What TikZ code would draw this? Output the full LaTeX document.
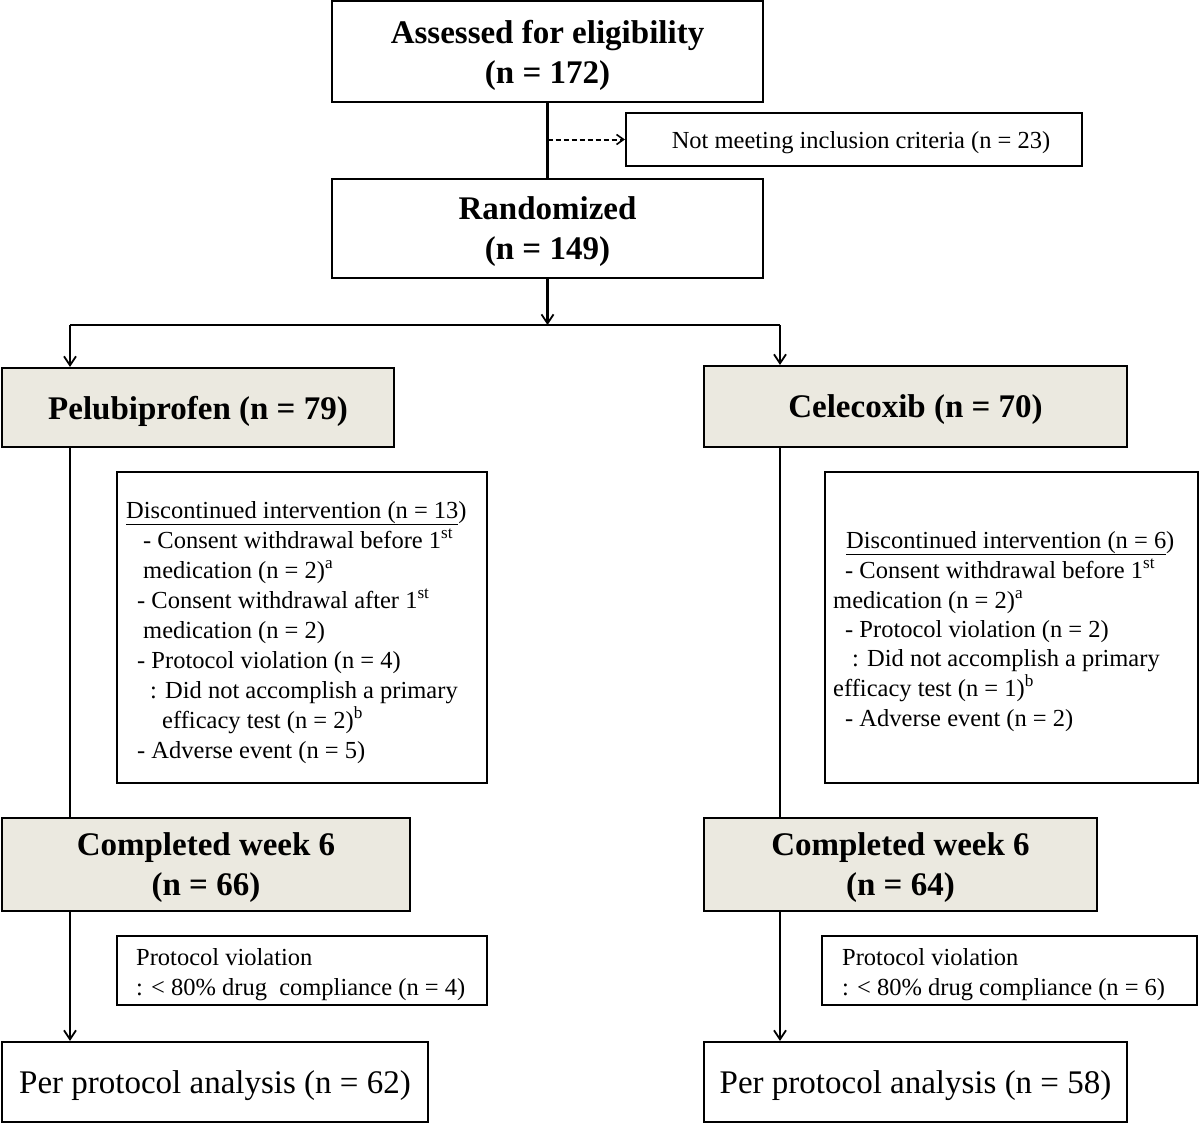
\documentclass[tikz,border=0pt]{standalone}
\usepackage{fontspec}
\setmainfont{Liberation Serif}
\usetikzlibrary{arrows.meta}
\definecolor{boxfill}{RGB}{235,233,224}
\tikzset{
  box/.style={draw=black, line width=2.2pt, inner sep=0pt, align=center},
  armbox/.style={box, fill=boxfill},
  headtxt/.style={font=\fontsize{33}{40}\selectfont\bfseries, text depth=0pt},
  plaintxt/.style={font=\fontsize{33}{40}\selectfont, text depth=0pt},
  smalltxt/.style={font=\fontsize{24.5}{30}\selectfont, text depth=0pt},
  ln/.style={anchor=base west, inner sep=0pt, font=\fontsize{24.5}{30}\selectfont},
  conn/.style={line width=2.2pt},
  arr/.style={conn, -{Straight Barb[length=9pt,width=12pt,line width=1.8pt]}},
  darr/.style={line width=2pt, dash pattern=on 5pt off 3pt, -{Straight Barb[length=7pt,width=10pt,line width=1.6pt]}},
}
\begin{document}
\begin{tikzpicture}[x=1pt,y=-1pt]
\useasboundingbox (0,0) rectangle (1200,1125);
% top boxes
\node[box, headtxt, minimum width=431, minimum height=101] (assess) at (547.5,51.5) {Assessed for eligibility\\(n = 172)};
\node[box, smalltxt, minimum width=456, minimum height=53] (notmeet) at (854,139.5) {\hspace*{14pt}Not meeting inclusion criteria (n = 23)};
\node[box, headtxt, minimum width=431, minimum height=99] (rand) at (547.5,228.5) {Randomized\\(n = 149)};
% arms
\node[armbox, headtxt, minimum width=392, minimum height=79] (pelu) at (198,407.5) {Pelubiprofen (n = 79)};
\node[armbox, headtxt, minimum width=423, minimum height=81] (cele) at (915.5,406.5) {Celecoxib (n = 70)};
% discontinued boxes
\node[box, minimum width=370, minimum height=311] (discL) at (302,627.5) {};
\node[box, minimum width=373, minimum height=311] (discR) at (1011.5,627.5) {};
% completed
\node[armbox, headtxt, minimum width=408, minimum height=93] (compL) at (206,864.5) {Completed week 6\\(n = 66)};
\node[armbox, headtxt, minimum width=393, minimum height=93] (compR) at (900.5,864.5) {Completed week 6\\(n = 64)};
% protocol violation
\node[box, minimum width=370, minimum height=69] (pvL) at (302,970.5) {};
\node[box, minimum width=375, minimum height=69] (pvR) at (1009.5,970.5) {};
% per protocol
\node[box, plaintxt, minimum width=426, minimum height=80] (ppL) at (215,1082) {Per protocol analysis (n = 62)};
\node[box, plaintxt, minimum width=423, minimum height=80] (ppR) at (915.5,1082) {Per protocol analysis (n = 58)};

% left discontinued text
\node[ln] (dl1) at (126,518) {\underline{Discontinued intervention (n = 13})};
\node[ln] (dl2) at (143,548) {- Consent withdrawal before 1\textsuperscript{st}};
\node[ln] (dl3) at (143,578) {medication (n = 2)\textsuperscript{a}};
\node[ln] (dl4) at (137,608) {- Consent withdrawal after 1\textsuperscript{st}};
\node[ln] (dl5) at (143,638) {medication (n = 2)};
\node[ln] (dl6) at (137,668) {- Protocol violation (n = 4)};
\node[ln] (dl7) at (150,698) {: Did not accomplish a primary};
\node[ln] (dl8) at (162,728) {efficacy test (n = 2)\textsuperscript{b}};
\node[ln] (dl9) at (137,758) {- Adverse event (n = 5)};
% right discontinued text
\node[ln] (dr1) at (846,548) {\underline{Discontinued intervention (n = 6})};
\node[ln] (dr2) at (845,578) {- Consent withdrawal before 1\textsuperscript{st}};
\node[ln] (dr3) at (833,608) {medication (n = 2)\textsuperscript{a}};
\node[ln] (dr4) at (845,637) {- Protocol violation (n = 2)};
\node[ln] (dr5) at (852,666) {: Did not accomplish a primary};
\node[ln] (dr6) at (833,696) {efficacy test (n = 1)\textsuperscript{b}};
\node[ln] (dr7) at (845,726) {- Adverse event (n = 2)};
% protocol violation text
\node[ln] (pl1) at (136,965) {Protocol violation};
\node[ln] (pl2) at (136,995) {: < 80\% drug\ \ compliance (n = 4)};
\node[ln] (pr1) at (842,965) {Protocol violation};
\node[ln] (pr2) at (842,995) {: < 80\% drug compliance (n = 6)};

% connectors
\coordinate (excl) at (assess.south |- notmeet.west);
\coordinate (split) at (547.5,325);
\coordinate (splitL) at (70,325);
\coordinate (splitR) at (780,325);
\draw[conn] (assess.south) -- (rand.north);
\draw[darr] (excl) -- (notmeet.west);
\draw[arr] (rand.south) -- (split);
\draw[line width=1.5pt] (splitL) -- (splitR);
\draw[arr] (splitL) -- (splitL |- pelu.north);
\draw[arr] (splitR) -- (splitR |- cele.north);
\draw[conn] (splitL |- pelu.south) -- (splitL |- compL.north);
\draw[conn] (splitR |- cele.south) -- (splitR |- compR.north);
\draw[arr] (splitL |- compL.south) -- (splitL |- ppL.north);
\draw[arr] (splitR |- compR.south) -- (splitR |- ppR.north);
\end{tikzpicture}
\end{document}
